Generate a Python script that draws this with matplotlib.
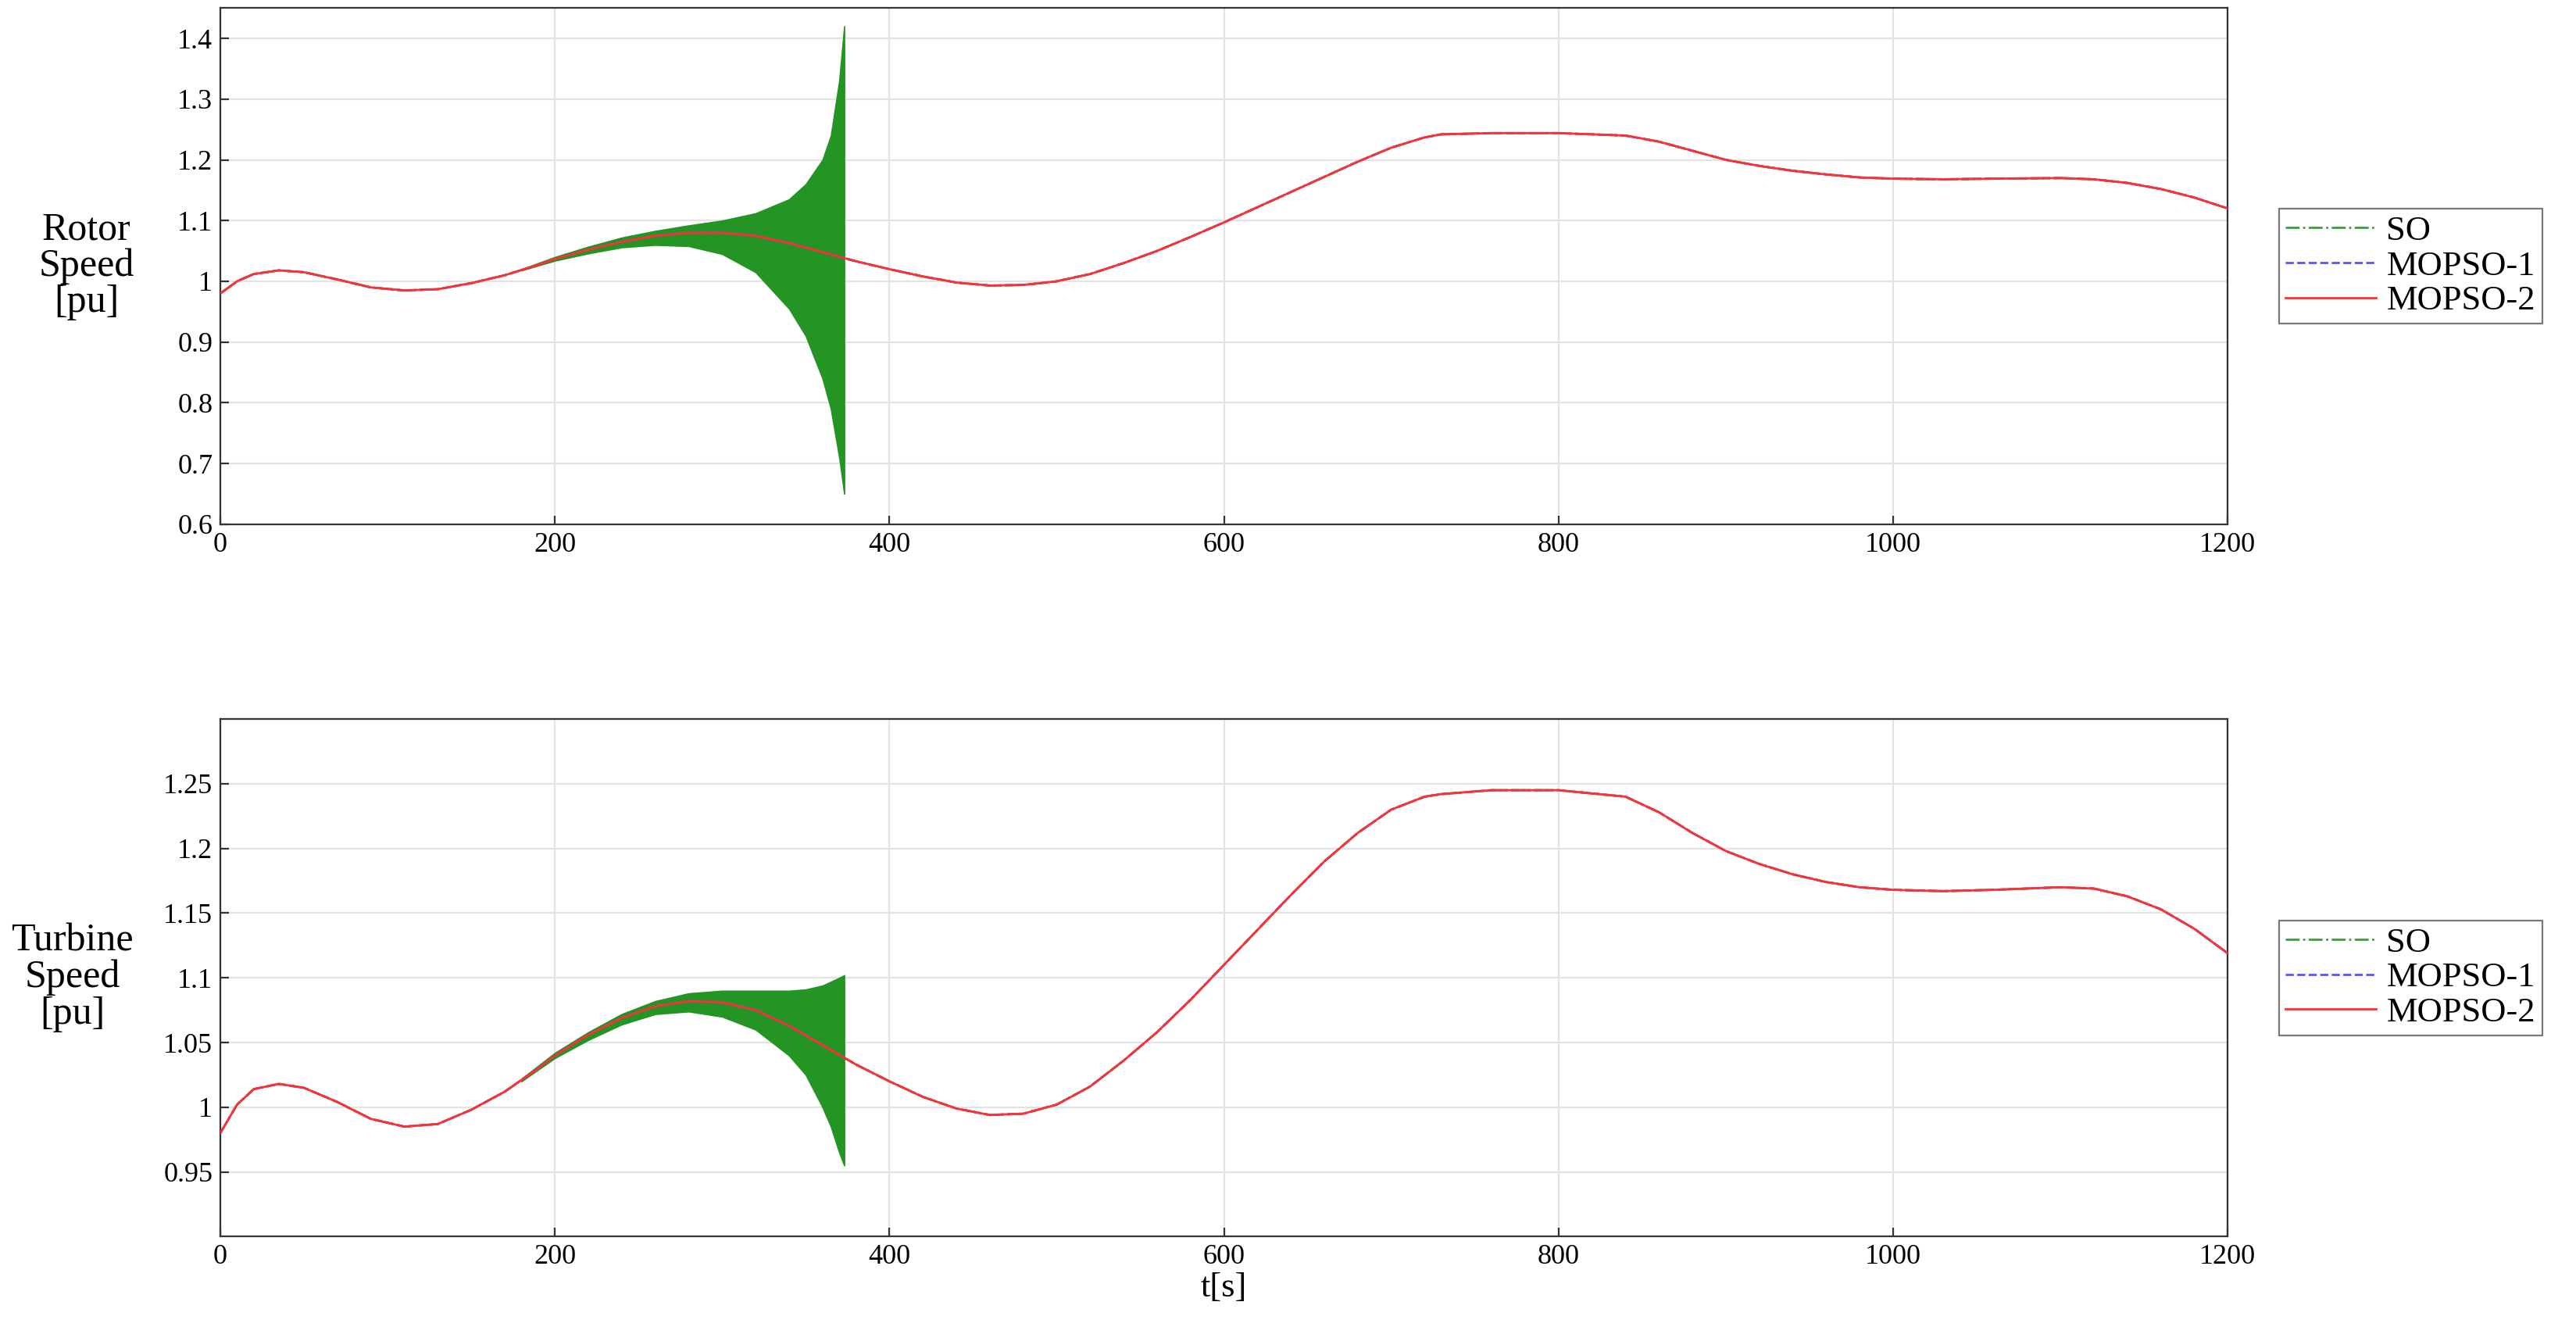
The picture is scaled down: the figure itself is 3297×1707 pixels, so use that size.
import matplotlib
matplotlib.use("Agg")
import matplotlib.pyplot as plt
import numpy as np

plt.rcParams['font.family'] = ['Liberation Serif', 'DejaVu Serif']

t_knots = [0, 10, 20, 35, 50, 70, 90, 110, 130, 150, 170, 190, 200, 220, 240, 260, 280, 300, 320, 340, 360, 380, 400,
           420, 440, 460, 480, 500, 520, 540, 560, 580, 600, 620, 640, 660, 680, 700, 720, 730, 760, 800, 840, 860,
           880, 900, 920, 940, 960, 980, 1000, 1030, 1060, 1100, 1120, 1140, 1160, 1180, 1200]
rotor = [0.98, 1.0, 1.012, 1.018, 1.015, 1.003, 0.99, 0.985, 0.987, 0.997, 1.01, 1.027, 1.037, 1.052, 1.065, 1.075,
         1.08, 1.08, 1.075, 1.063, 1.048, 1.033, 1.02, 1.008, 0.998, 0.993, 0.994, 1.0, 1.012, 1.03, 1.05, 1.073,
         1.097, 1.122, 1.147, 1.172, 1.197, 1.22, 1.237, 1.242, 1.244, 1.244, 1.24, 1.23, 1.215, 1.2, 1.19, 1.182,
         1.176, 1.171, 1.169, 1.168, 1.169, 1.17, 1.168, 1.162, 1.152, 1.138, 1.12]
turbine = [0.98, 1.002, 1.014, 1.018, 1.015, 1.004, 0.991, 0.985, 0.987, 0.998, 1.012, 1.03, 1.04, 1.056, 1.069, 1.078,
           1.082, 1.081, 1.075, 1.063, 1.048, 1.033, 1.02, 1.008, 0.999, 0.994, 0.995, 1.002, 1.016, 1.036, 1.058, 1.083,
           1.11, 1.137, 1.164, 1.19, 1.212, 1.23, 1.24, 1.242, 1.245, 1.245, 1.24, 1.228, 1.212, 1.198, 1.188, 1.18,
           1.174, 1.17, 1.168, 1.167, 1.168, 1.17, 1.169, 1.163, 1.153, 1.138, 1.119]

so_t = [180, 200, 220, 240, 260, 280, 300, 320, 340, 350, 360, 365, 370, 373]
so_rotor_hi = [1.02, 1.04, 1.057, 1.072, 1.083, 1.092, 1.1, 1.112, 1.135, 1.16, 1.2, 1.24, 1.33, 1.42]
so_rotor_lo = [1.018, 1.034, 1.046, 1.056, 1.06, 1.058, 1.045, 1.015, 0.955, 0.91, 0.84, 0.79, 0.71, 0.65]
so_turb_hi = [1.022, 1.042, 1.058, 1.072, 1.082, 1.088, 1.09, 1.09, 1.09, 1.091, 1.094, 1.097, 1.1, 1.102]
so_turb_lo = [1.02, 1.038, 1.052, 1.064, 1.072, 1.074, 1.07, 1.06, 1.04, 1.025, 1.0, 0.985, 0.965, 0.955]

fig = plt.figure(figsize=(16.49, 8.535), dpi=200)
ax1 = fig.add_axes([0.0855, 0.607, 0.779, 0.387])
ax2 = fig.add_axes([0.0855, 0.073, 0.779, 0.388])

def panel(ax, y, hi, lo, ylim, yticks, ylab):
    ax.fill_between(so_t, lo, hi, color='#249424', lw=0.6, zorder=2)
    ax.plot(t_knots, y, color='#3aa03a', ls='-.', lw=1.0, label='SO', zorder=1)
    ax.plot(t_knots, y, color='#5555ff', ls='--', lw=1.0, label='MOPSO-1', zorder=3)
    ax.plot(t_knots, y, color='#ff3030', ls='-', lw=1.0, label='MOPSO-2', zorder=4)
    ax.set_xlim(0, 1200)
    ax.set_ylim(*ylim)
    ax.set_xticks([0, 200, 400, 600, 800, 1000, 1200])
    ax.set_yticks(yticks)
    ax.set_yticklabels([f'{v:g}' for v in yticks])
    ax.grid(True, color='#e3e3e3', lw=0.8)
    ax.tick_params(labelsize=13, direction='in', length=4, color='#333333')
    for s in ax.spines.values():
        s.set_color('#333333'); s.set_linewidth(0.8)
    ax.set_ylabel(ylab, rotation=0, fontsize=18, labelpad=42, va='center', linespacing=1.0)
    leg = ax.legend(loc='center left', bbox_to_anchor=(1.022, 0.5), fontsize=16, frameon=True,
                    fancybox=False, edgecolor='#555555', handlelength=2.6, borderpad=0.2,
                    labelspacing=0.1, handletextpad=0.3, borderaxespad=0.2)
    leg.get_frame().set_linewidth(0.8)

panel(ax1, rotor, so_rotor_hi, so_rotor_lo, (0.6, 1.45),
      [0.6, 0.7, 0.8, 0.9, 1.0, 1.1, 1.2, 1.3, 1.4], 'Rotor\nSpeed\n[pu]')
panel(ax2, turbine, so_turb_hi, so_turb_lo, (0.9, 1.3),
      [0.95, 1.0, 1.05, 1.1, 1.15, 1.2, 1.25], 'Turbine\nSpeed\n[pu]')
ax2.set_xlabel('t[s]', fontsize=16, labelpad=1)

fig.savefig('out.png', dpi=200)
